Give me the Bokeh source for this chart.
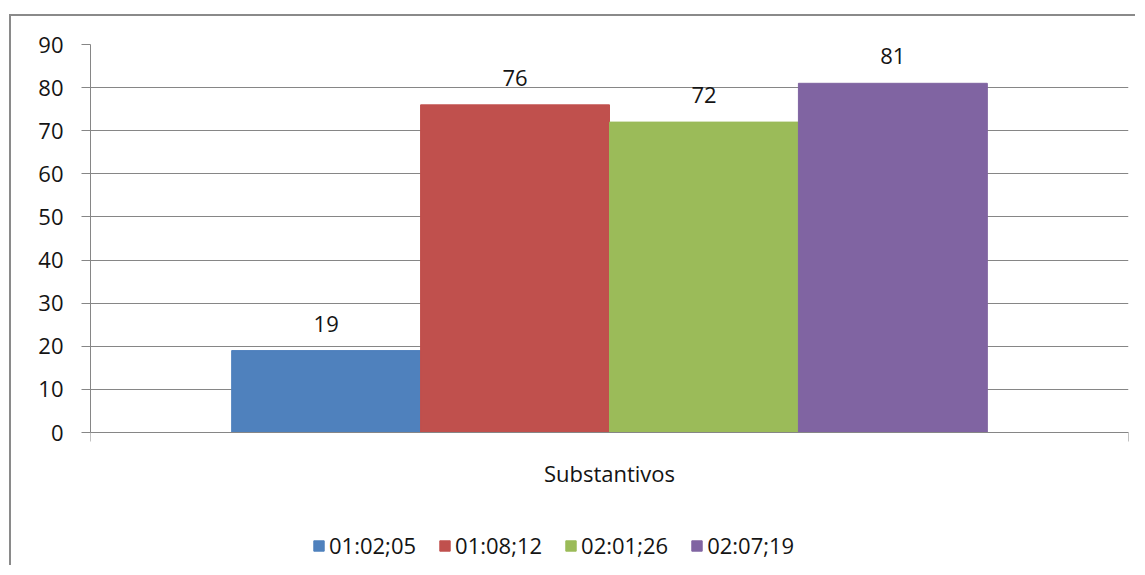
from bokeh.plotting import figure
from bokeh.models import (Range1d, LinearAxis, FixedTicker, Label,
                          ColumnDataSource, LabelSet, Legend, LegendItem)
from bokeh.core.properties import value
from bokeh.embed import file_html
from bokeh.resources import INLINE

categories = ["Substantivos"]
series = ["01:02;05", "01:08;12", "02:01;26", "02:07;19"]
values = [19, 76, 72, 81]
colors = ["#4F81BD", "#C0504D", "#9BBB59", "#8064A2"]
y_ticks = [0, 10, 20, 30, 40, 50, 60, 70, 80, 90]

FONT = "Open Sans"
FS = "22px"
GREY = "#868686"
TXT = "#141414"

W, H = 1126, 551
TOP, PLOT_H = 28, 388            # pixel layout of the value axis
below_px = H - TOP - PLOT_H      # room under the zero line for labels/legend
ymax = y_ticks[-1]
ymin = -below_px * ymax / PLOT_H

p = figure(width=W, height=H, output_backend="svg", toolbar_location=None,
           x_range=Range1d(0, len(categories)),
           y_range=Range1d(ymin, ymax), x_axis_location=None,
           min_border_left=79, min_border_right=9, min_border_top=TOP, min_border_bottom=0,
           styles={"margin-left": "9px", "margin-top": "14px",
                   "border-left": "2px solid #8a8a8a", "border-top": "2px solid #8a8a8a"})
p.outline_line_color = None
p.background_fill_color = "white"
p.border_fill_color = "white"

# y axis
ya = p.yaxis[0]
ya.ticker = FixedTicker(ticks=y_ticks)
ya.bounds = (y_ticks[0], y_ticks[-1])
ya.axis_line_color = GREY
ya.major_tick_line_color = GREY
ya.major_tick_out = 9
ya.major_tick_in = 0
ya.minor_tick_line_color = None
ya.major_label_text_font = FONT
ya.major_label_text_font_size = FS
ya.major_label_text_color = TXT
ya.major_label_standoff = 18
p.ygrid.grid_line_color = GREY
p.ygrid.ticker = FixedTicker(ticks=y_ticks)
p.xgrid.grid_line_color = None

# category axis line at zero with boundary ticks pointing down
edges = [float(k) for k in range(len(categories) + 1)]
centers = [k + 0.5 for k in range(len(categories))]
edge_axis = LinearAxis(ticker=FixedTicker(ticks=edges), fixed_location=0,
                       major_label_text_color=None, major_label_standoff=0,
                       major_tick_out=0, major_tick_in=9, minor_tick_line_color=None,
                       axis_line_color=GREY, major_tick_line_color=GREY)
p.add_layout(edge_axis, "above")

for ctr, name in zip(centers, categories):
    p.add_layout(Label(x=ctr, y=0, y_offset=-40, text=name, text_align="center",
                       text_baseline="alphabetic", text_font=FONT,
                       text_font_size=FS, text_color=TXT))

n = len(series)
bw = 0.728 / n
items = []
for i, (s, v, c) in enumerate(zip(series, values, colors)):
    xs = [ctr + (i - (n - 1) / 2) * bw for ctr in centers]
    src = ColumnDataSource(dict(x=xs, val=[v], lab=[str(v)]))
    r = p.vbar(x="x", top="val", width=bw, bottom=0,
               source=src, fill_color=c, line_color=c)
    lbl = LabelSet(x="x", y="val", text="lab", source=src,
                   y_offset=19, text_align="center", text_baseline="alphabetic",
                   text_font=value(FONT), text_font_size=value(FS), text_color=TXT)
    p.add_layout(lbl)
    items.append(LegendItem(label=s, renderers=[r]))

legend = Legend(items=items, orientation="horizontal", location=(222, 7),
                glyph_width=13, glyph_height=13, label_standoff=4, spacing=22,
                padding=0, margin=0, border_line_color=None, background_fill_alpha=0,
                label_text_font=FONT, label_text_font_size=FS, label_text_color=TXT)
p.add_layout(legend, "center")

open("out.html", "w").write(file_html(p, INLINE))
